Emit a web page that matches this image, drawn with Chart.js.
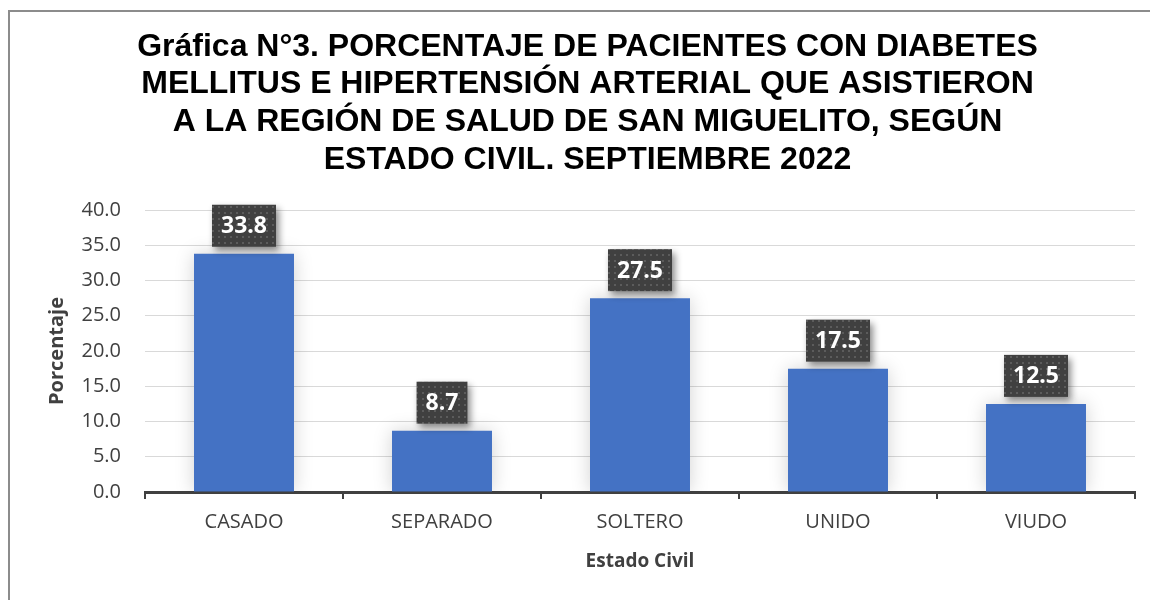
<!DOCTYPE html>
<html>
<head>
<meta charset="utf-8">
<script src="https://cdn.jsdelivr.net/npm/chart.js@4.4.0/dist/chart.umd.min.js"></script>
<style>
  body { margin: 0; background: #fff; }
  #wrap { width: 1150px; height: 600px; position: relative; }
</style>
</head>
<body>
<div id="wrap"><canvas id="estadoCivilChart"></canvas></div>
<script>
// Chart data
const categories = ["CASADO", "SEPARADO", "SOLTERO", "UNIDO", "VIUDO"];
const porcentajes = [33.8, 8.7, 27.5, 17.5, 12.5];
const yTicks = [0, 5, 10, 15, 20, 25, 30, 35, 40];
const titleLines = [
  "Gráfica N°3. PORCENTAJE DE PACIENTES CON DIABETES",
  "MELLITUS E HIPERTENSIÓN ARTERIAL QUE ASISTIERON",
  "A LA REGIÓN DE SALUD DE SAN MIGUELITO, SEGÚN",
  "ESTADO CIVIL. SEPTIEMBRE 2022",
];

const textGray = "#404040";

// dotted fill for the value boxes
function makeDotPattern(ctx) {
  const p = document.createElement("canvas");
  p.width = 6;
  p.height = 6;
  const pc = p.getContext("2d");
  pc.fillStyle = "#404040";
  pc.fillRect(0, 0, 6, 6);
  pc.fillStyle = "#5c5c5c";
  pc.fillRect(2, 2, 2, 2);
  return ctx.createPattern(p, "repeat");
}

// white background + outer frame
const framePlugin = {
  id: "frame",
  beforeDraw(chart) {
    const ctx = chart.ctx;
    ctx.save();
    ctx.fillStyle = "#fff";
    ctx.fillRect(0, 0, chart.width, chart.height);
    ctx.strokeStyle = "#8c8c8c";
    ctx.lineWidth = 2;
    ctx.strokeRect(9, 11, chart.width + 20, chart.height + 20);
    ctx.restore();
  },
};

// soft shadow behind the bars
const barShadowPlugin = {
  id: "barShadow",
  beforeDatasetDraw(chart) {
    const ctx = chart.ctx;
    ctx.save();
    ctx.shadowColor = "rgba(0, 0, 0, 0.18)";
    ctx.shadowBlur = 18;
    ctx.shadowOffsetX = 0;
    ctx.shadowOffsetY = 0;
  },
  afterDatasetDraw(chart) {
    chart.ctx.restore();
  },
};

// dark value boxes above each bar
const valueBoxPlugin = {
  id: "valueBoxes",
  afterDatasetsDraw(chart) {
    const ctx = chart.ctx;
    const meta = chart.getDatasetMeta(0);
    const pattern = makeDotPattern(ctx);
    ctx.save();
    ctx.font = "bold 23px 'Open Sans'";
    meta.data.forEach((bar, i) => {
      const text = porcentajes[i].toFixed(1);
      const w = ctx.measureText(text).width + 18;
      const h = 42;
      const x = bar.x - w / 2;
      const y = bar.y - 7 - h;
      ctx.save();
      ctx.shadowColor = "rgba(0, 0, 0, 0.45)";
      ctx.shadowBlur = 7;
      ctx.shadowOffsetX = 3;
      ctx.shadowOffsetY = 4;
      ctx.fillStyle = pattern;
      ctx.fillRect(x, y, w, h);
      ctx.restore();
      ctx.fillStyle = "#fff";
      ctx.textAlign = "center";
      ctx.textBaseline = "middle";
      ctx.fillText(text, bar.x, y + h / 2 + 1);
    });
    ctx.restore();
  },
};

const ctx = document.getElementById("estadoCivilChart");
new Chart(ctx, {
  type: "bar",
  data: {
    labels: categories,
    datasets: [
      {
        label: "Porcentaje",
        data: porcentajes,
        backgroundColor: "#4472C4",
        borderWidth: 0,
        barPercentage: 0.505,
        categoryPercentage: 1,
      },
    ],
  },
  options: {
    responsive: true,
    maintainAspectRatio: false,
    animation: false,
    layout: {
      padding: { left: 40, right: 15, top: 0, bottom: 20 },
    },
    plugins: {
      legend: { display: false },
      tooltip: { enabled: false },
      title: {
        display: true,
        text: titleLines,
        color: "#000",
        font: { family: "'Liberation Sans', Arial", size: 32, weight: "bold", lineHeight: 1.18 },
        padding: { top: 28, bottom: 31 },
      },
    },
    scales: {
      x: {
        grid: {
          display: true,
          drawOnChartArea: false,
          drawTicks: true,
          tickLength: 7,
          color: textGray,
          lineWidth: 2,
        },
        border: { display: true, color: textGray, width: 3 },
        ticks: {
          color: textGray,
          padding: 11,
          font: { family: "'Open Sans'", size: 20 },
        },
        title: {
          display: true,
          text: "Estado Civil",
          color: textGray,
          font: { family: "'Open Sans'", size: 19, weight: "bold", lineHeight: 1.2 },
          padding: { top: 0, bottom: 7 },
        },
        afterFit(scale) {
          scale.height = 88;
        },
      },
      y: {
        min: 0,
        max: 40,
        afterBuildTicks(scale) {
          scale.ticks = yTicks.map((v) => ({ value: v }));
        },
        grid: {
          color: "#d9d9d9",
          lineWidth: 1,
          drawTicks: false,
        },
        border: { display: false },
        ticks: {
          color: textGray,
          padding: 24,
          font: { family: "'Open Sans'", size: 20 },
          callback: (v) => Number(v).toFixed(1),
        },
        title: {
          display: true,
          text: "Porcentaje",
          color: textGray,
          font: { family: "'Open Sans'", size: 20, weight: "bold", lineHeight: 1.2 },
          padding: { top: 5, bottom: 0 },
        },
        afterFit(scale) {
          scale.width = 105;
        },
      },
    },
  },
  plugins: [framePlugin, barShadowPlugin, valueBoxPlugin],
});
</script>
</body>
</html>
